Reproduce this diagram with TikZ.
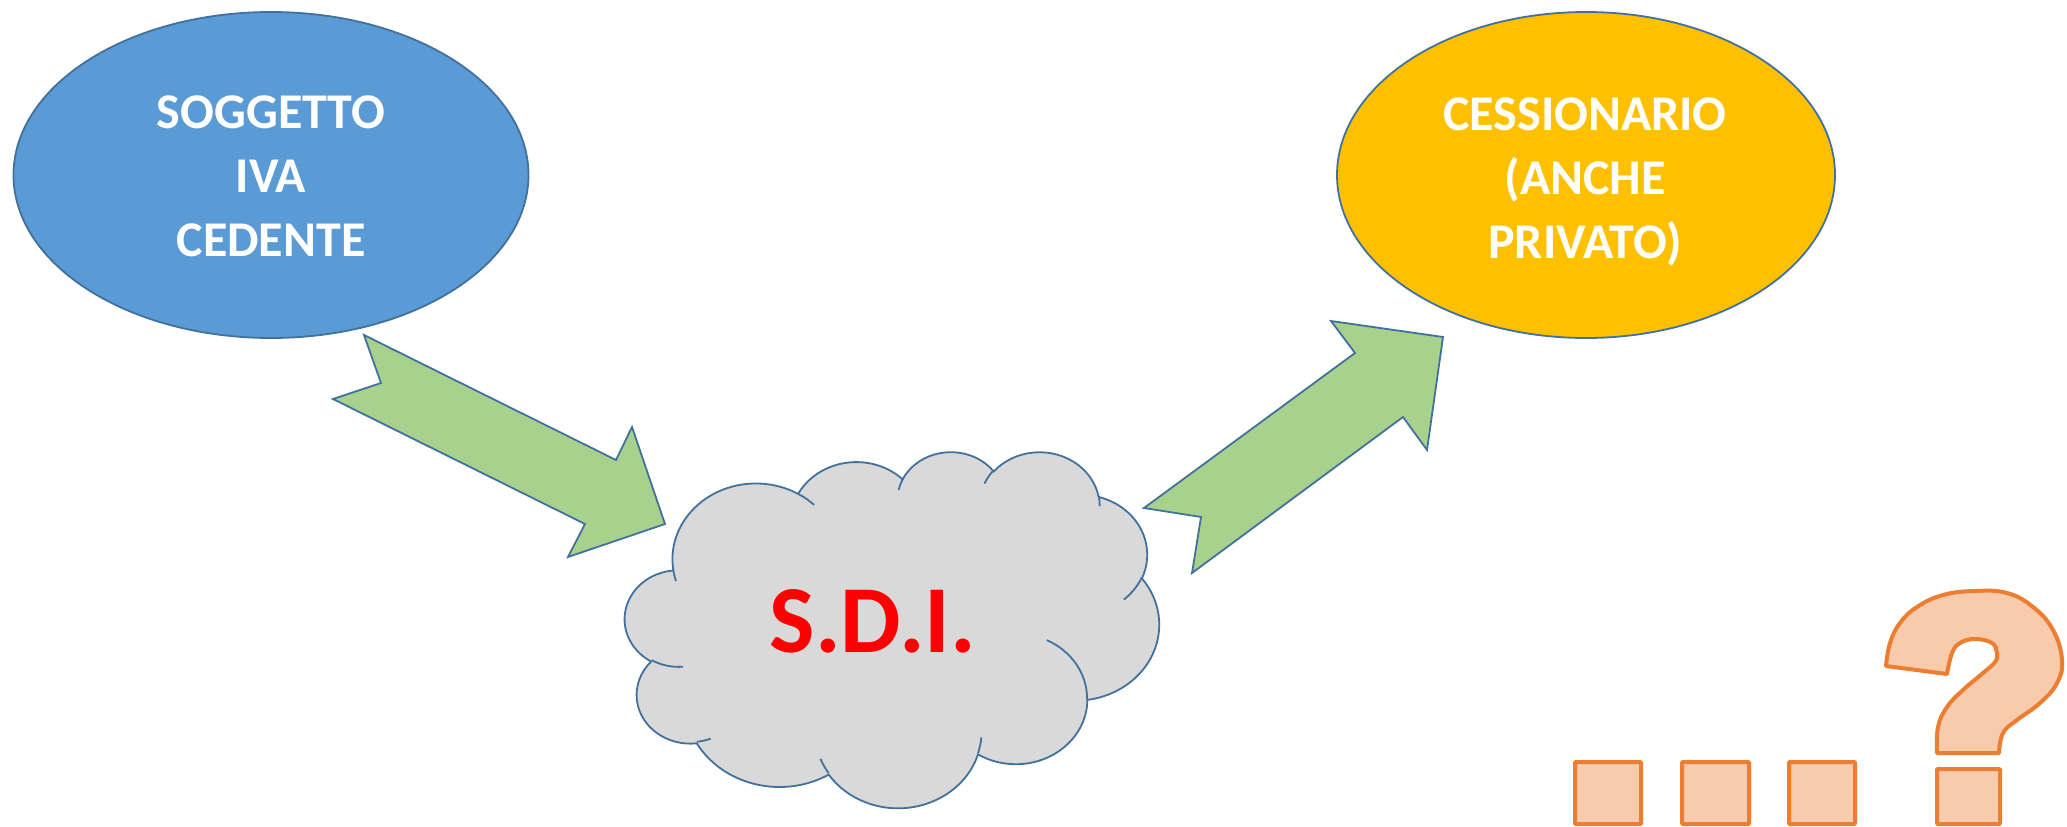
\documentclass[tikz,border=0pt]{standalone}
\usepackage{fontspec}
\setmainfont{Carlito}
\usetikzlibrary{shapes.geometric}
\definecolor{edge}{HTML}{41719C}
\definecolor{blueF}{HTML}{5B9BD5}
\definecolor{goldF}{HTML}{FFC000}
\definecolor{greenF}{HTML}{A9D18E}
\definecolor{cloudF}{HTML}{D9D9D9}
\definecolor{orgE}{HTML}{ED7D31}
\definecolor{orgF}{HTML}{F8CBAD}
\definecolor{sdired}{HTML}{FF0000}
% OOXML-style arcTo: #1 = wR, #2 = hR, #3 = start angle, #4 = sweep (degrees)
\newcommand\ooarc[4]{arc[start angle={atan2((#1)*sin(#3),(#2)*cos(#3))},
  delta angle={mod(atan2((#1)*sin((#3)+(#4)),(#2)*cos((#3)+(#4)))-atan2((#1)*sin(#3),(#2)*cos(#3))+720,360)},
  x radius=#1, y radius=#2]}
\begin{document}
\begin{tikzpicture}[x=1pt,y=-1pt,
  shp/.style={draw=edge, line width=1.8pt},
  ell/.style={ellipse, shp, inner sep=0pt},
  lbl/.style={text=white, font=\bfseries\fontsize{50}{64}\selectfont, align=center, inner sep=0pt},
  sditxt/.style={text=sdired, font=\bfseries\fontsize{96}{110}\selectfont, inner sep=0pt, anchor=base},
  arr/.style={shp, fill=greenF},
  qbox/.style={draw=orgE, fill=orgF, line width=4pt, rounded corners=1pt},
  qmark/.style={draw=orgE, fill=orgF, line width=4pt, line join=round}]
\useasboundingbox (0,0) rectangle (2067,827);
\fill[white] (0,0) rectangle (2067,827);

% ellipses
\node[ell, fill=blueF, minimum width=515pt, minimum height=326pt] (cedente) at (271,175) {};
\node[lbl] (cedtxt) at (271,176.5) {SOGGETTO\\IVA\\CEDENTE};
\node[ell, fill=goldF, minimum width=498pt, minimum height=326pt] (cessionario) at (1586,175) {};
\node[lbl] (cestxt) at (1585,181.5) {CESSIONARIO\\(ANCHE\\PRIVATO)};

% notched arrows
\draw[arr] (364,335) -- (616,460) -- (632,427) -- (665,524) -- (568,557) -- (585,524) -- (333,399) -- (381,383) -- cycle;
\draw[arr] (1144,508) -- (1355,353) -- (1331,321) -- (1443,337) -- (1427,450) -- (1403,417) -- (1192,573) -- (1201,517) -- cycle;

% cloud
\begin{scope}[shift={(625pt,-451pt)}, x=0.12361pt, y=-0.08241pt]
\draw[shp, fill=cloudF] (390,1437)
  \ooarc{675.3}{919}{-190.48748}{123.78053}
  \ooarc{533.3}{726.7}{-144.10238}{89.94523}
  \ooarc{436.5}{594.5}{-145.80792}{99.72302}
  \ooarc{485.7}{659.5}{-130.98607}{117.24173}
  \ooarc{533.3}{727.3}{-78.70888}{109.02692}
  \ooarc{677.5}{922}{-46.26725}{130.269}
  \ooarc{578.5}{786.7}{0.62502}{114.03333}
  \ooarc{675.2}{921.5}{22.4516}{115.17255}
  \ooarc{772}{1054.3}{66.24263}{75.71102}
  \ooarc{436}{591.8}{-274.94208}{146.73557}
  \ooarc{434.5}{594.5}{-246.8285}{152.51885}
  -- cycle;
\draw[shp]
  (469.3,2617.7) \ooarc{434.5}{594.5}{86.742}{26.4295}
  (692.8,3489.9) \ooarc{436}{591.8}{73.61047}{11.44747}
  (1647.8,3909.0) \ooarc{675.2}{921.5}{137.62415}{14.0811}
  (2882.7,3475.1) \ooarc{675.2}{921.5}{6.45327}{15.99835}
  (3412.9,2295.4) \ooarc{578.5}{786.7}{-70.29235}{70.91737}
  (4179.8,1535.4) \ooarc{533.3}{727.3}{30.31803}{27.7515}
  (3832.4,542.6) \ooarc{485.7}{659.5}{-13.74433}{14.8589}
  (2907.8,395.2) \ooarc{485.7}{659.5}{-149.18145}{18.19537}
  (2214.1,472.0) \ooarc{436.5}{594.5}{-163.49427}{17.68635}
  (1400.0,519.2) \ooarc{675.3}{919}{-66.70695}{12.31935}
  (412.7,1578.9) \ooarc{675.3}{919}{157.65435}{11.85817};
\end{scope}
\node[sditxt] (sdi) at (873,652) {S.D.I.};

% squares and question mark
\draw[qbox] (1575,762) rectangle (1641,824);
\draw[qbox] (1682,762) rectangle (1749,824);
\draw[qbox] (1789,762) rectangle (1855,824);
\draw[qbox] (1937,769) rectangle (2000,824);
\draw[qmark] (1886,666) -- plot[smooth, tension=0.7] coordinates {(1886,666) (1890,643) (1900,623) (1917,607) (1943,595) (1975,591) (2007,593) (2033,607) (2053,630) (2062,660) (2057,683) (2040,703) (2017,720) (2003,733) (1999,753)}
  -- (1937,753) -- plot[smooth, tension=0.7] coordinates {(1937,753) (1938,727) (1947,707) (1963,690) (1983,673) (1995,662) (1997,653) (1992,643) (1975,639) (1960,643) (1952,653) (1947,674)}
  -- cycle;
\end{tikzpicture}
\end{document}
